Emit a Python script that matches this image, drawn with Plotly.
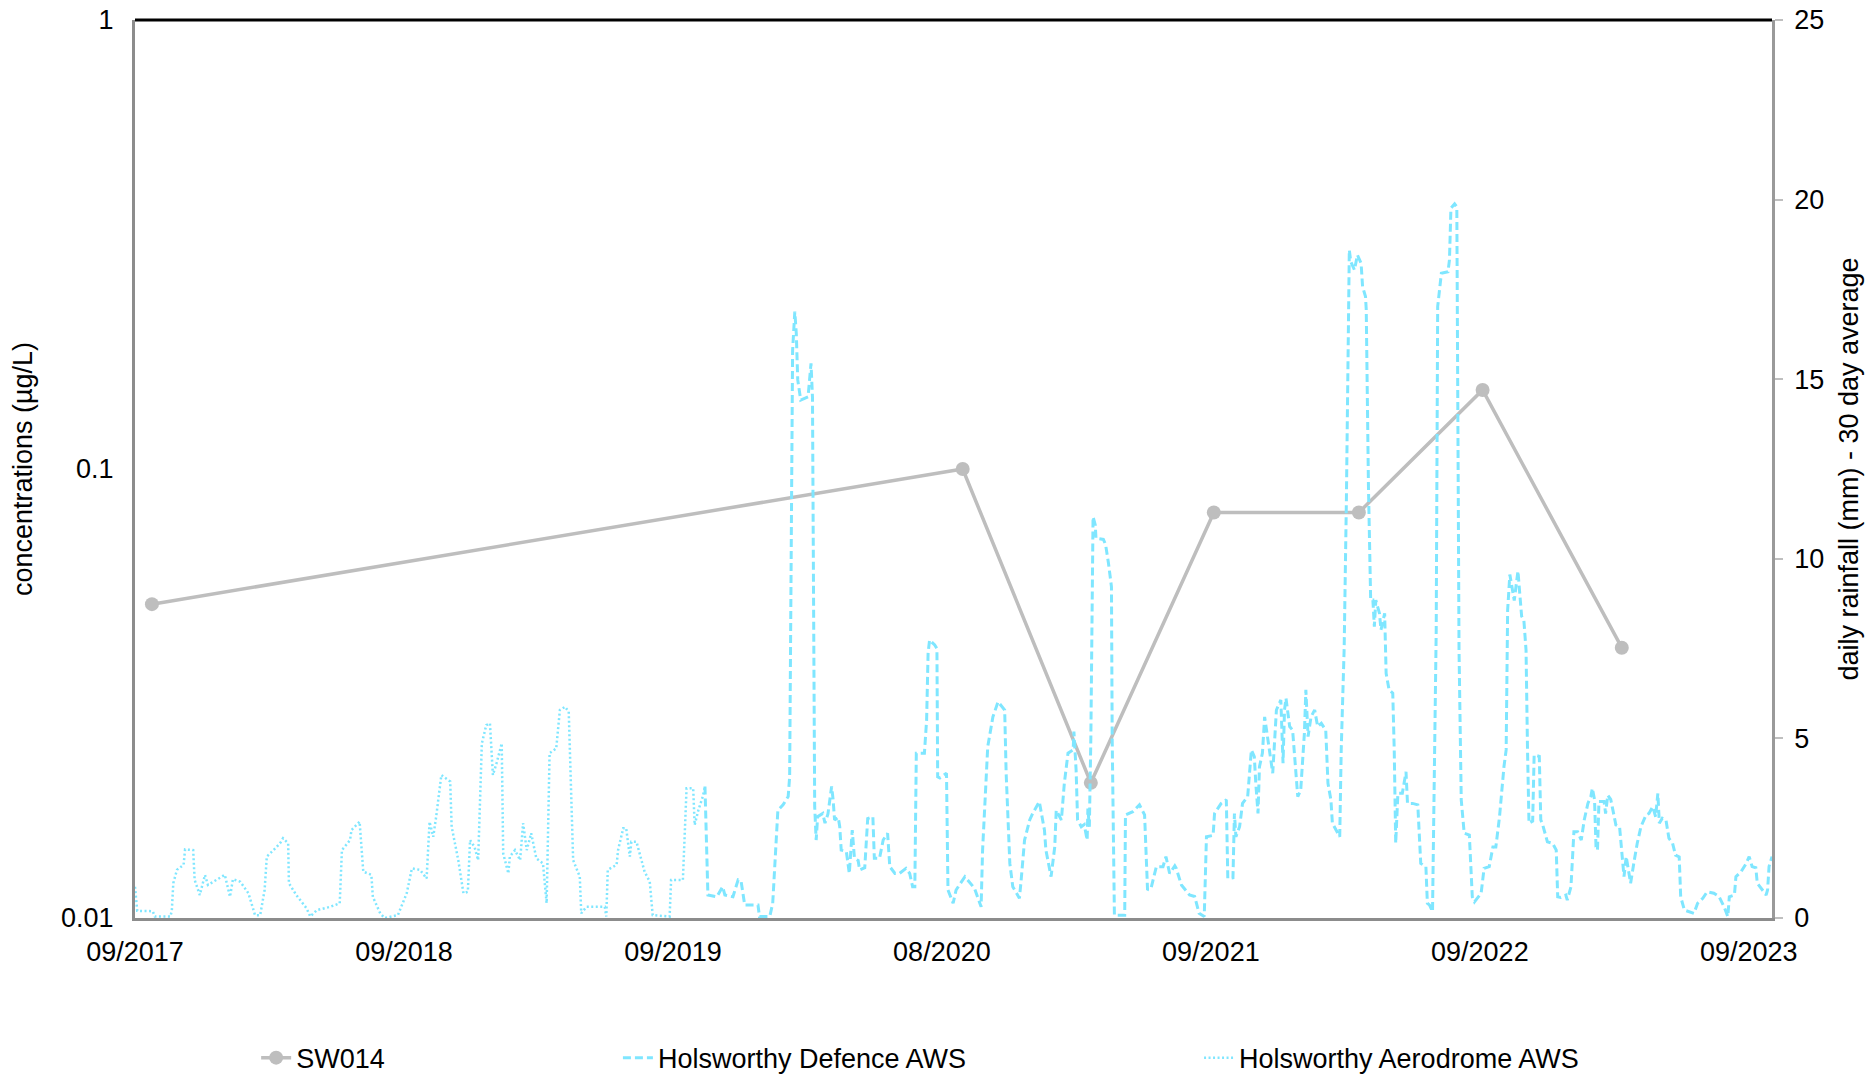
import pandas as pd
import plotly.graph_objects as go

# ---------------- data ----------------
base_date = "2017-09-01"          # x axis origin
axis_span_days = 2223             # x axis length in days
tick_step_days = 365.25
tick_labels = ["09/2017", "09/2018", "09/2019", "08/2020", "09/2021", "09/2022", "09/2023"]

# SW014 concentrations (µg/L), days since base_date
sw014_days = [23, 1124, 1298, 1465, 1662, 1830, 2019]
sw014_conc = [0.05, 0.10, 0.02, 0.08, 0.08, 0.15, 0.04]

# Holsworthy Aerodrome AWS - 30 day average rainfall (mm)
aero_days = [0, 3, 24, 27, 48, 50, 52, 57, 66, 68, 79, 81, 88, 95, 99, 111, 122, 129, 133, 143,
             154, 163, 170, 176, 179, 188, 197, 201, 208, 209, 219, 233, 238, 247, 265, 278, 281,
             292, 294, 305, 310, 321, 323, 333, 339, 357, 369, 376, 387, 396, 398, 400, 405, 409,
             416, 428, 430, 434, 439, 446, 452, 455, 461, 466, 471, 477, 482, 486, 491, 498, 500,
             507, 509, 516, 523, 527, 532, 538, 545, 554, 559, 563, 572, 577, 584, 589, 593, 595,
             604, 606, 613, 638, 640, 642, 654, 656, 663, 667, 672, 674, 681, 688, 692, 699, 703,
             726, 728, 744, 749, 758, 760, 765, 771, 774]
aero_rain = [0.87, 0.2, 0.19, 0.04, 0.04, 0.2, 0.97, 1.34, 1.48, 1.91, 1.89, 1.06, 0.64, 1.2, 0.92,
             1.06, 1.2, 0.59, 1.08, 1.01, 0.69, 0.08, 0.08, 0.78, 1.71, 1.89, 2.08, 2.22, 2.08, 0.97,
             0.64, 0.27, 0.04, 0.22, 0.31, 0.41, 1.89, 2.17, 2.45, 2.68, 1.29, 1.2, 0.59, 0.13, 0.0,
             0.08, 0.69, 1.38, 1.34, 1.1, 1.89, 2.68, 2.26, 2.82, 3.98, 3.8, 2.54, 2.12, 1.61, 0.69,
             0.73, 2.17, 1.98, 1.61, 4.86, 5.37, 5.42, 3.98, 4.31, 4.86, 1.8, 1.24, 1.71, 1.89, 1.61,
             2.64, 1.89, 2.36, 1.66, 1.52, 0.41, 4.59, 4.72, 5.79, 5.88, 5.74, 3.19, 1.61, 1.15, 0.13,
             0.31, 0.31, 0.04, 1.34, 1.48, 1.89, 2.5, 2.5, 1.71, 2.12, 2.12, 1.61, 1.29, 1.01, 0.08,
             0.04, 1.06, 1.06, 3.61, 3.61, 2.59, 3.0, 3.38, 3.66]

# Holsworthy Defence AWS - 30 day average rainfall (mm)
defence_days = [774, 778, 790, 798, 801, 812, 819, 823, 828, 846, 848, 862, 866, 871, 873, 880, 887,
                889, 893, 896, 898, 900, 904, 914, 918, 920, 923, 925, 927, 934, 937, 941, 946, 948,
                950, 955, 957, 959, 966, 970, 974, 977, 982, 984, 991, 995, 1002, 1004, 1011, 1016,
                1022, 1025, 1032, 1038, 1047, 1052, 1056, 1059, 1061, 1072, 1075, 1077, 1079, 1086,
                1089, 1090, 1093, 1102, 1104, 1111, 1115, 1127, 1140, 1149, 1151, 1158, 1165, 1172,
                1179, 1181, 1183, 1188, 1192, 1201, 1203, 1208, 1215, 1219, 1228, 1235, 1237, 1244,
                1249, 1251, 1258, 1262, 1267, 1274, 1275, 1278, 1280, 1285, 1289, 1293, 1294, 1296,
                1298, 1301, 1304, 1305, 1315, 1318, 1322, 1326, 1327, 1330, 1344, 1345, 1355, 1364,
                1371, 1375, 1380, 1387, 1396, 1400, 1405, 1412, 1414, 1421, 1432, 1439, 1445, 1452,
                1455, 1464, 1466, 1475, 1482, 1484, 1491, 1493, 1495, 1500, 1504, 1511, 1516, 1520,
                1522, 1525, 1527, 1531, 1534, 1541, 1545, 1550, 1556, 1559, 1561, 1563, 1568, 1572,
                1574, 1579, 1583, 1588, 1590, 1593, 1597, 1602, 1606, 1611, 1617, 1620, 1624, 1626,
                1631, 1636, 1638, 1642, 1645, 1649, 1651, 1656, 1660, 1665, 1667, 1671, 1672, 1675,
                1678, 1681, 1683, 1685, 1690, 1692, 1697, 1699, 1703, 1708, 1710, 1712, 1715, 1721,
                1726, 1728, 1735, 1742, 1746, 1753, 1755, 1758, 1762, 1767, 1769, 1774, 1783, 1785,
                1787, 1792, 1795, 1797, 1798, 1801, 1805, 1812, 1816, 1819, 1828, 1832, 1839, 1844,
                1848, 1853, 1857, 1859, 1862, 1864, 1867, 1873, 1878, 1883, 1886, 1889, 1891, 1893,
                1898, 1900, 1907, 1909, 1911, 1914, 1918, 1925, 1930, 1932, 1936, 1943, 1945, 1950,
                1952, 1954, 1959, 1964, 1968, 1973, 1977, 1979, 1982, 1984, 1986, 1988, 1995, 1997,
                2000, 2004, 2006, 2011, 2016, 2020, 2022, 2025, 2029, 2031, 2036, 2040, 2045, 2052,
                2056, 2061, 2065, 2068, 2070, 2074, 2079, 2083, 2088, 2092, 2097, 2099, 2104, 2111,
                2117, 2122, 2129, 2135, 2144, 2151, 2158, 2163, 2165, 2172, 2174, 2181, 2188, 2192,
                2196, 2201, 2203, 2210, 2215, 2217, 2219, 2223]
defence_rain = [3.66, 0.64, 0.59, 0.87, 0.64, 0.59, 1.06, 1.03, 0.36, 0.36, 0.04, 0.04, 0.41, 2.17,
                3.0, 3.15, 3.38, 3.93, 15.8, 16.88, 16.28, 14.98, 14.42, 14.51, 15.44, 14.5, 3.1,
                2.17, 2.82, 2.91, 2.64, 2.9, 3.66, 3.3, 2.73, 2.8, 2.54, 1.89, 1.85, 1.24, 2.45, 1.66,
                1.6, 1.34, 1.4, 2.77, 2.82, 1.66, 1.66, 2.17, 2.36, 1.43, 1.24, 1.24, 1.38, 1.24,
                0.87, 0.87, 4.59, 4.59, 5.51, 7.37, 7.74, 7.6, 7.5, 3.93, 3.9, 4.03, 0.78, 0.41, 0.78,
                1.15, 0.83, 0.31, 1.89, 4.77, 5.6, 6.02, 5.84, 5.79, 4.03, 1.52, 0.87, 0.55, 0.97,
                2.17, 2.73, 2.91, 3.24, 2.45, 1.89, 1.15, 1.98, 3.0, 2.73, 3.75, 4.59, 4.68, 5.19,
                4.12, 2.73, 2.54, 2.6, 2.17, 3.05, 2.54, 5.0, 11.17, 10.94, 10.57, 10.54, 10.4, 9.87,
                9.22, 5.0, 0.08, 0.08, 2.87, 2.96, 3.15, 2.87, 0.78, 0.85, 1.43, 1.43, 1.71, 1.24,
                1.45, 1.38, 0.92, 0.64, 0.6, 0.13, 0.04, 2.26, 2.3, 2.91, 3.19, 3.29, 1.1, 1.12, 2.91,
                2.26, 2.54, 3.19, 3.38, 4.68, 4.49, 3.75, 2.91, 4.21, 4.59, 5.6, 4.68, 4.03, 5.79,
                6.07, 4.31, 5.79, 6.12, 5.33, 5.23, 4.68, 3.38, 3.56, 5.14, 6.35, 5.05, 5.6, 5.79,
                5.33, 5.42, 5.23, 3.75, 3.29, 2.64, 2.45, 2.26, 4.68, 7.5, 11.6, 18.6, 18.27, 18.04,
                18.46, 18.23, 17.58, 17.3, 16.93, 12.0, 8.85, 8.85, 8.11, 8.85, 8.48, 8.02, 8.48,
                6.81, 6.35, 6.26, 4.68, 2.08, 3.47, 3.47, 4.07, 3.19, 3.19, 3.15, 1.52, 1.43, 0.41,
                0.36, 0.18, 8.0, 17.02, 17.95, 17.99, 18.32, 19.76, 19.88, 19.8, 12.0, 7.46, 3.29,
                2.36, 2.31, 0.59, 0.45, 0.69, 1.38, 1.43, 1.98, 1.98, 2.82, 3.93, 4.21, 4.68, 8.57,
                9.56, 8.84, 9.66, 8.4, 8.3, 7.46, 4.68, 2.64, 2.7, 4.54, 4.5, 2.73, 2.64, 2.4, 2.12,
                2.08, 1.89, 0.59, 0.57, 0.64, 0.5, 0.87, 1.61, 2.4, 2.4, 2.17, 2.73, 3.19, 3.38, 3.61,
                3.3, 1.98, 1.89, 3.24, 3.24, 2.91, 3.42, 3.3, 3.1, 2.59, 2.54, 1.71, 1.15, 1.71, 1.15,
                0.97, 1.61, 2.08, 2.54, 2.87, 2.91, 3.1, 2.82, 3.47, 2.64, 2.78, 2.73, 2.22, 2.08,
                1.75, 1.7, 0.59, 0.22, 0.18, 0.13, 0.41, 0.55, 0.73, 0.69, 0.6, 0.31, 0.04, 0.59,
                0.64, 1.15, 1.29, 1.52, 1.71, 1.43, 1.4, 0.97, 0.78, 0.64, 0.78, 1.43, 1.71]

conc_ticks = [0.01, 0.1, 1]
conc_tick_labels = ["0.01", "0.1", "1"]
rain_ticks = [0, 5, 10, 15, 20, 25]

# ---------------- helpers ----------------
t0 = pd.Timestamp(base_date)


def to_dates(days):
    return [t0 + pd.Timedelta(days=d) for d in days]


tick_dates = [t0 + pd.Timedelta(days=tick_step_days * k) for k in range(len(tick_labels))]
x_end = t0 + pd.Timedelta(days=axis_span_days)

FONT = "Liberation Sans, Arial, sans-serif"
FS = 27
CYAN = "#7FE6FF"
GREY = "#BEBEBE"

fig = go.Figure()

fig.add_trace(go.Scatter(
    x=to_dates(sw014_days), y=sw014_conc, name="SW014", mode="lines+markers",
    line=dict(color=GREY, width=3.5), marker=dict(color=GREY, size=14),
    yaxis="y", legend="legend",
))
fig.add_trace(go.Scatter(
    x=to_dates(defence_days), y=defence_rain, name="Holsworthy Defence AWS", mode="lines",
    line=dict(color=CYAN, width=3, dash="8px,4px"), yaxis="y2", legend="legend2",
))
fig.add_trace(go.Scatter(
    x=to_dates(aero_days), y=aero_rain, name="Holsworthy Aerodrome AWS", mode="lines",
    line=dict(color=CYAN, width=2.5, dash="2px,2.5px"), yaxis="y2", legend="legend3",
))

legend_common = dict(orientation="h", yanchor="middle", y=-0.156, xanchor="left",
                     font=dict(family=FONT, size=FS, color="#000000"),
                     bgcolor="rgba(0,0,0,0)", borderwidth=0)

fig.update_layout(
    width=1865, height=1081,
    margin=dict(l=135, r=93, t=20, b=163, autoexpand=False),
    paper_bgcolor="white", plot_bgcolor="white",
    font=dict(family=FONT, size=FS, color="#000000"),
    showlegend=True, hovermode=False,
    legend=dict(x=0.074, **legend_common),
    legend2=dict(x=0.295, **legend_common),
    legend3=dict(x=0.650, **legend_common),
    xaxis=dict(
        type="date", range=[t0, x_end], tickmode="array", tickvals=tick_dates,
        ticktext=tick_labels, showgrid=False, zeroline=False,
        showline=True, linecolor="#8C8C8C", linewidth=3, ticks="",
        ticklabelstandoff=8, tickfont=dict(size=FS), automargin=False,
    ),
    yaxis=dict(
        type="log", range=[-2, 0], tickmode="array", tickvals=conc_ticks,
        ticktext=conc_tick_labels, showgrid=False, zeroline=False,
        showline=True, linecolor="#8C8C8C", linewidth=3, ticks="",
        ticklabelstandoff=13, tickfont=dict(size=FS), automargin=False,
        title=dict(text="concentrations (µg/L)", font=dict(size=FS), standoff=21),
    ),
    yaxis2=dict(
        overlaying="y", side="right", range=[0, 25], tickmode="array", tickvals=rain_ticks,
        showgrid=False, zeroline=False, showline=True, linecolor="#9A9A9A", linewidth=2.5,
        ticks="outside", ticklen=8, tickcolor="#BFBFBF", tickwidth=2,
        ticklabelstandoff=6, tickfont=dict(size=FS), automargin=False,
        title=dict(text="daily rainfall (mm) - 30 day average", font=dict(size=FS), standoff=16),
    ),
    shapes=[dict(type="line", xref="paper", yref="paper", x0=0, x1=1, y0=1, y1=1,
                 line=dict(color="#000000", width=3))],
)

fig.write_html(
    "out.html",
    config={"displayModeBar": False},
    post_script="document.body.style.margin='0px';document.body.style.overflow='hidden';",
)
